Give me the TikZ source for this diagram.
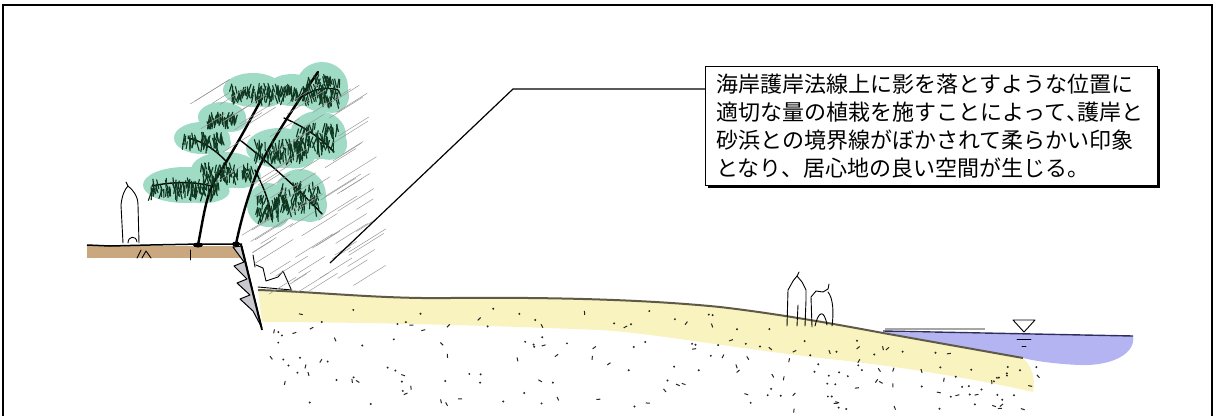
\documentclass[tikz,border=0pt]{standalone}
\usepackage{fontspec}
\newfontfamily\jpfont{Noto Sans CJK JP}
\usetikzlibrary{shadows}

\definecolor{sandyellow}{RGB}{249,243,192}
\definecolor{waterblue}{RGB}{180,180,243}
\definecolor{groundtan}{RGB}{201,168,128}
\definecolor{pinemint}{RGB}{160,219,198}
\definecolor{pineneedle}{RGB}{16,54,32}
\definecolor{wallgray}{RGB}{200,200,206}
\definecolor{sandedge}{RGB}{95,90,72}
\definecolor{wateredge}{RGB}{45,45,95}

\tikzset{
  frameline/.style={line width=1.2pt, black},
  notebox/.style={draw=black, line width=1.1pt, fill=white,
    drop shadow={shadow xshift=2pt, shadow yshift=-2pt, fill=black, opacity=1},
    minimum width=452pt, minimum height=119pt, inner xsep=11pt,
    text width=430pt, align=left,
    font=\jpfont\fontsize{22}{28}\selectfont},
  leader/.style={line width=1.2pt, black},
  sandline/.style={line width=2pt, sandedge},
  needle/.style={line width=1.15pt, pineneedle, line cap=round},
  trunk/.style={line width=2.4pt, black, line cap=round, line join=round},
  branch/.style={line width=1.4pt, black, line cap=round},
  sketch/.style={line width=0.9pt, black, line cap=round, line join=round},
  hatch/.style={line width=0.5pt, black!40, line cap=round},
  grain/.style={black!85},
}

\begin{document}
\begin{tikzpicture}[x=1pt, y=-1pt]
\useasboundingbox (0,0) rectangle (1215,416);
\pgfmathsetseed{4177}

% outer frame, open at the bottom
\draw[frameline] (3,416) -- (3,5) -- (1212,5) -- (1212,416);

% sand layer of the beach
\fill[sandyellow] (258,290) .. controls (320,292) and (380,299) .. (450,298)
  .. controls (560,297) and (650,300) .. (720,307)
  .. controls (780,314) and (840,325) .. (883,333) -- (1023,358)
  .. controls (1032,366) and (1036,380) .. (1033,392)
  .. controls (980,380) and (900,366) .. (820,358)
  .. controls (720,346) and (650,333) .. (600,330)
  .. controls (450,324) and (330,322) .. (262,322) -- cycle;

% grains in the sand and the ground below it
\foreach \i in {1,...,190} {
  \pgfmathsetmacro\px{268+770*rnd}
  \pgfmathsetmacro\ptop{\px<700 ? 298+(\px-268)*0.016 : 306+(\px-700)*0.16}
  \pgfmathsetmacro\py{\ptop+6+(410-\ptop-6)*rnd}
  \pgfmathsetmacro\kind{rnd}
  \pgfmathsetmacro\ang{180*rnd}
  \ifdim\kind pt<0.55pt
    \fill[grain] (\px,\py) circle (1.1);
  \else
    \draw[grain, line width=1pt] (\px,\py) -- ++(\ang:4);
  \fi
}

% sea water
\fill[waterblue] (883,332) -- (1133,336)
  .. controls (1136,352) and (1115,366) .. (1080,365)
  .. controls (1055,364) and (1035,361) .. (1023,358) -- cycle;
\draw[black!35, line width=2pt] (885,329) -- (985,329);
\draw[wateredge, line width=1.4pt] (883,331) -- (1133,336);

% beach surface
\draw[sandline] (258,290) .. controls (320,292) and (380,299) .. (450,298)
  .. controls (560,297) and (650,300) .. (720,307)
  .. controls (780,314) and (840,325) .. (883,333) -- (1023,358);

% water level mark
\draw[sketch] (1013,320) -- (1035,320) -- (1024,332) -- cycle;
\draw[sketch] (1017,339) -- (1031,339);
\draw[sketch] (1022,346) -- (1026,346);

% ground on top of the seawall
\fill[groundtan] (87,246) rectangle (240,258);
\draw[line width=1.5pt] (87,245) -- (110,246) -- (150,245) -- (200,244) -- (242,244);
\draw[sketch] (137,258) -- (141,250);
\draw[sketch] (142,258) -- (146,251) -- (151,258);
\draw[sketch] (190,250) -- (190,260);

% stepped seawall
\filldraw[wallgray, draw=black, line width=1pt, line join=round]
  (233,247) -- (242,246) -- (262,328) -- (253,311) -- (240,299) -- (250,295)
  -- (237,283) -- (247,279) -- (234,266) -- (244,262) -- cycle;
\draw[line width=1.8pt] (241,245) -- (262,330);

% figures
\draw[sketch] (123,243) -- (121,205) .. controls (122,195) and (125,189) .. (128,186)
  -- (126,182) (128,186) .. controls (133,190) and (138,196) .. (138,205) -- (139,243);
\draw[sketch] (128,243) .. controls (128,236) and (136,235) .. (137,242);
\draw[sketch] (253,255) -- (255,267) (256,265) -- (263,268) -- (266,281) -- (278,277)
  -- (283,271) -- (291,289);
\draw[sketch] (258,287) -- (292,290);
\draw[sketch] (787,326) -- (788,290) -- (793,281) -- (797,276) -- (799,272)
  (797,276) -- (802,282) -- (806,290) -- (806,300) -- (805,326);
\draw[sketch] (797,326) -- (798,305);
\draw[sketch] (812,327) -- (811,297) -- (816,291) -- (823,292) -- (828,289) -- (829,284)
  (828,292) .. controls (833,298) and (834,312) .. (832,326);
\draw[sketch] (815,326) .. controls (818,312) and (824,308) .. (827,325);

% pine foliage, each cloud made of two overlapping blobs
\foreach \cx/\cy/\rx/\ry in {185/185/36/12, 202/138/22/10, 222/117/18/9, 253/90/24/11,
    292/90/20/10, 322/87/20/19, 225/170/28/12, 280/148/28/14, 318/135/22/18,
    300/195/20/20, 268/205/15/16} {
  \fill[pinemint] (\cx,\cy) ellipse ({\rx+6} and {\ry+6});
  \fill[pinemint] ({\cx+0.5*\rx},{\cy+0.5*\ry}) ellipse ({0.6*\rx+5} and {0.6*\ry+5});
}

% trunks and branches
\draw[trunk] (198,245) .. controls (203,220) and (206,195) .. (215,180)
  .. controls (228,160) and (245,130) .. (262,98);
\draw[trunk] (236,244) .. controls (242,215) and (250,190) .. (258,170)
  .. controls (272,140) and (292,110) .. (318,72);
\draw[branch] (240,140) .. controls (268,162) and (300,190) .. (322,214);
\draw[branch] (212,186) .. controls (195,182) and (175,181) .. (152,186);
\draw[branch] (284,118) .. controls (300,125) and (318,135) .. (334,152);
\draw[branch] (227,162) .. controls (215,150) and (205,142) .. (188,138);
\draw[branch] (255,170) .. controls (262,185) and (268,195) .. (272,220);
\draw[branch] (300,98) .. controls (310,92) and (322,85) .. (338,90);
\fill (198,245) ellipse (5 and 2.5);
\fill (236,244) ellipse (4 and 2.5);

% pine needles
\foreach \cx/\cy/\rx/\ry/\n in {185/185/34/10/95, 202/138/20/8/50, 222/117/16/7/40,
    253/90/22/9/60, 292/90/18/8/45, 322/87/18/17/80, 225/170/26/10/72,
    280/148/26/12/80, 318/135/20/16/72, 300/195/18/18/70, 268/205/13/14/45} {
  \foreach \k in {1,...,\n} {
    \pgfmathsetmacro\nx{\cx+\rx*rand}
    \pgfmathsetmacro\ny{\cy+\ry*0.75*rand}
    \pgfmathsetmacro\na{90+22*rand}
    \pgfmathsetmacro\nl{6+4*rnd}
    \draw[needle] (\nx,\ny) -- ++(\na:\nl);
  }
}

% shade cast by the pines
\foreach \i in {1,...,80} {
  \pgfmathsetmacro\hy{100+195*rnd}
  \pgfmathsetmacro\hl{185+(\hy-100)*0.38}
  \pgfmathsetmacro\hr{345+(\hy-100)*0.12}
  \pgfmathsetmacro\hx{\hl+(\hr-\hl)*rnd}
  \pgfmathsetmacro\hlen{18+28*rnd}
  \draw[hatch] (\hx,\hy) -- ++(-32:\hlen);
}

% explanatory note with its leader
\node[notebox, anchor=north west] (note) at (705,66)
  {海岸護岸法線上に影を落とすような位置に\\
   適切な量の植栽を施すことによって\makebox[0.5em][l]{、}護岸と\\
   砂浜との境界線がぼかされて柔らかい印象\\
   となり、居心地の良い空間が生じる。};
\coordinate (bend) at (513,89);
\coordinate (tip) at (330,263);
\draw[leader] (note.west |- bend) -- (bend) -- (tip);
\end{tikzpicture}
\end{document}
